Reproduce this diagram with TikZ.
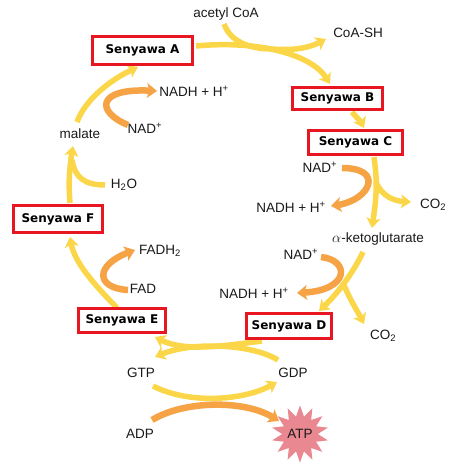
\documentclass[tikz,border=0pt]{standalone}
\usepackage{fontspec}
\setmainfont{Liberation Sans}
\newfontfamily\bxfont{DejaVu Sans}
\usetikzlibrary{arrows.meta,shapes.geometric}
\definecolor{cyc}{RGB}{250,214,72}
\definecolor{org}{RGB}{245,163,68}
\definecolor{bxred}{RGB}{232,22,32}
\definecolor{atpc}{RGB}{234,136,146}
\definecolor{txt}{RGB}{25,25,25}
\begin{document}
\begin{tikzpicture}[x=1pt,y=-1pt,
  lbl/.style={text=txt,inner sep=1pt,font=\fontsize{13.5}{16}\selectfont},
  sbox/.style={draw=bxred,line width=3pt,fill=white,inner sep=0pt,text=black,
    font=\bxfont\bfseries\fontsize{12}{14}\selectfont},
  ylw/.style={draw=cyc,line width=5.5pt,-{Stealth[length=10pt,width=14pt,inset=2.5pt]}},
  ylwn/.style={draw=cyc,line width=5.5pt},
  orn/.style={draw=org,line width=6.5pt,-{Stealth[length=10pt,width=15pt,inset=2.5pt]}}]
\useasboundingbox (0,0) rectangle (456,462);
% text nodes
\node[lbl] (acoa) at (226,14) {acetyl CoA};
\node[lbl] (coash) at (358,33) {CoA-SH};
\node[lbl] (nadh1) at (194,91) {NADH + H\textsuperscript{+}};
\node[lbl] (nad1) at (145,128) {NAD\textsuperscript{+}};
\node[lbl] (malate) at (80,134) {malate};
\node[lbl] (h2o) at (124,185) {H\textsubscript{2}O};
\node[lbl] (fadh) at (160,251) {FADH\textsubscript{2}};
\node[lbl] (fad) at (143,289) {FAD};
\node[lbl] (nad2) at (320,167) {NAD\textsuperscript{+}};
\node[lbl] (nadh2) at (291,207) {NADH + H\textsuperscript{+}};
\node[lbl] (co2a) at (433,205) {CO\textsubscript{2}};
\node[lbl] (akg) at (378,239) {$\alpha$-ketoglutarate};
\node[lbl] (nad3) at (301,254) {NAD\textsuperscript{+}};
\node[lbl] (nadh3) at (254,293) {NADH + H\textsuperscript{+}};
\node[lbl] (co2b) at (383,336) {CO\textsubscript{2}};
\node[lbl] (gtp) at (141,373) {GTP};
\node[lbl] (gdp) at (293,373) {GDP};
\node[lbl] (adp) at (140,434) {ADP};
% coordinates
\coordinate (a0) at (196,46);
\coordinate (a1) at (330,84);
\coordinate (a2) at (250,46);
\coordinate (a3) at (326,39);
\coordinate (ac0) at (224,24);
\coordinate (ac1) at (266,49);
\coordinate (b0) at (352,112);
\coordinate (b1) at (364,128);
\coordinate (c0) at (374,157);
\coordinate (c1) at (372,228);
\coordinate (c2) at (376,182);
\coordinate (c3) at (411,202);
\coordinate (cn0) at (342,168);
\coordinate (cn1) at (331,206);
\coordinate (k0) at (363,252);
\coordinate (k1) at (319,311);
\coordinate (k2) at (344,285);
\coordinate (k3) at (364,324);
\coordinate (kn0) at (321,257);
\coordinate (kn1) at (297,293);
\coordinate (d0) at (262,341);
\coordinate (d1) at (155,337);
\coordinate (g0) at (278,360);
\coordinate (g1) at (155,357);
\coordinate (t0) at (153,386);
\coordinate (t1) at (277,382);
\coordinate (p0) at (152,420);
\coordinate (p1) at (279,421);
\coordinate (e0) at (117,308);
\coordinate (e1) at (70,237);
\coordinate (fa0) at (128,290);
\coordinate (fa1) at (135,250);
\coordinate (f0) at (70,203);
\coordinate (f1) at (73,146);
\coordinate (w0) at (105,185);
\coordinate (w1) at (72,160);
\coordinate (m0) at (77,122);
\coordinate (m1) at (138,67);
\coordinate (mn0) at (128,125);
\coordinate (mn1) at (157,91);
% yellow cycle arrows
\draw[ylw] (a0) .. controls (260,40) and (312,55) .. (a1);
\draw[ylw] (a2) .. controls (282,52) and (305,50) .. (a3);
\draw[ylwn] (ac0) .. controls (230,40) and (245,47) .. (ac1);
\draw[ylw] (b0) .. controls (357,118) and (361,122) .. (b1);
\draw[ylw] (c0) .. controls (378,185) and (376,200) .. (c1);
\draw[ylw] (c2) .. controls (382,197) and (395,201) .. (c3);
\draw[ylw] (k0) .. controls (352,275) and (336,295) .. (k1);
\draw[ylw] (k2) .. controls (350,300) and (358,312) .. (k3);
\draw[ylw] (d0) .. controls (222,346) and (185,352) .. (d1);
\draw[ylw] (g0) .. controls (250,343) and (190,342) .. (g1);
\draw[ylw] (t0) .. controls (190,405) and (245,400) .. (t1);
\draw[ylw] (e0) .. controls (100,290) and (75,265) .. (e1);
\draw[ylw] (f0) .. controls (68,180) and (70,165) .. (f1);
\draw[ylwn] (w0) .. controls (85,185) and (75,178) .. (w1);
\draw[ylw] (m0) .. controls (85,100) and (110,80) .. (m1);
% orange arrows
\draw[orn] (cn0) .. controls (385,168) and (370,200) .. (cn1);
\draw[orn] (kn0) .. controls (350,260) and (350,290) .. (kn1);
\draw[orn] (p0) .. controls (185,400) and (245,400) .. (p1);
\draw[orn] (fa0) .. controls (95,288) and (95,265) .. (fa1);
\draw[orn] (mn0) .. controls (96,112) and (96,88) .. (mn1);
% ATP
\node[star,star points=14,star point ratio=1.6,minimum size=57pt,fill=atpc,
  inner sep=0pt,text=txt,font=\fontsize{13.5}{16}\selectfont] (atp) at (300,434) {ATP};
% boxes
\node[sbox,minimum width=100pt,minimum height=28pt] (sA) at (142.5,50.5) {Senyawa A};
\node[sbox,minimum width=90pt,minimum height=22pt] (sB) at (337.5,98.5) {Senyawa B};
\node[sbox,minimum width=94pt,minimum height=24pt] (sC) at (355.5,142.5) {Senyawa C};
\node[sbox,minimum width=89pt,minimum height=27pt] (sF) at (58,219) {Senyawa F};
\node[sbox,minimum width=87pt,minimum height=24pt] (sE) at (122,320.5) {Senyawa E};
\node[sbox,minimum width=85pt,minimum height=25pt] (sD) at (289,326) {Senyawa D};
\end{tikzpicture}
\end{document}
